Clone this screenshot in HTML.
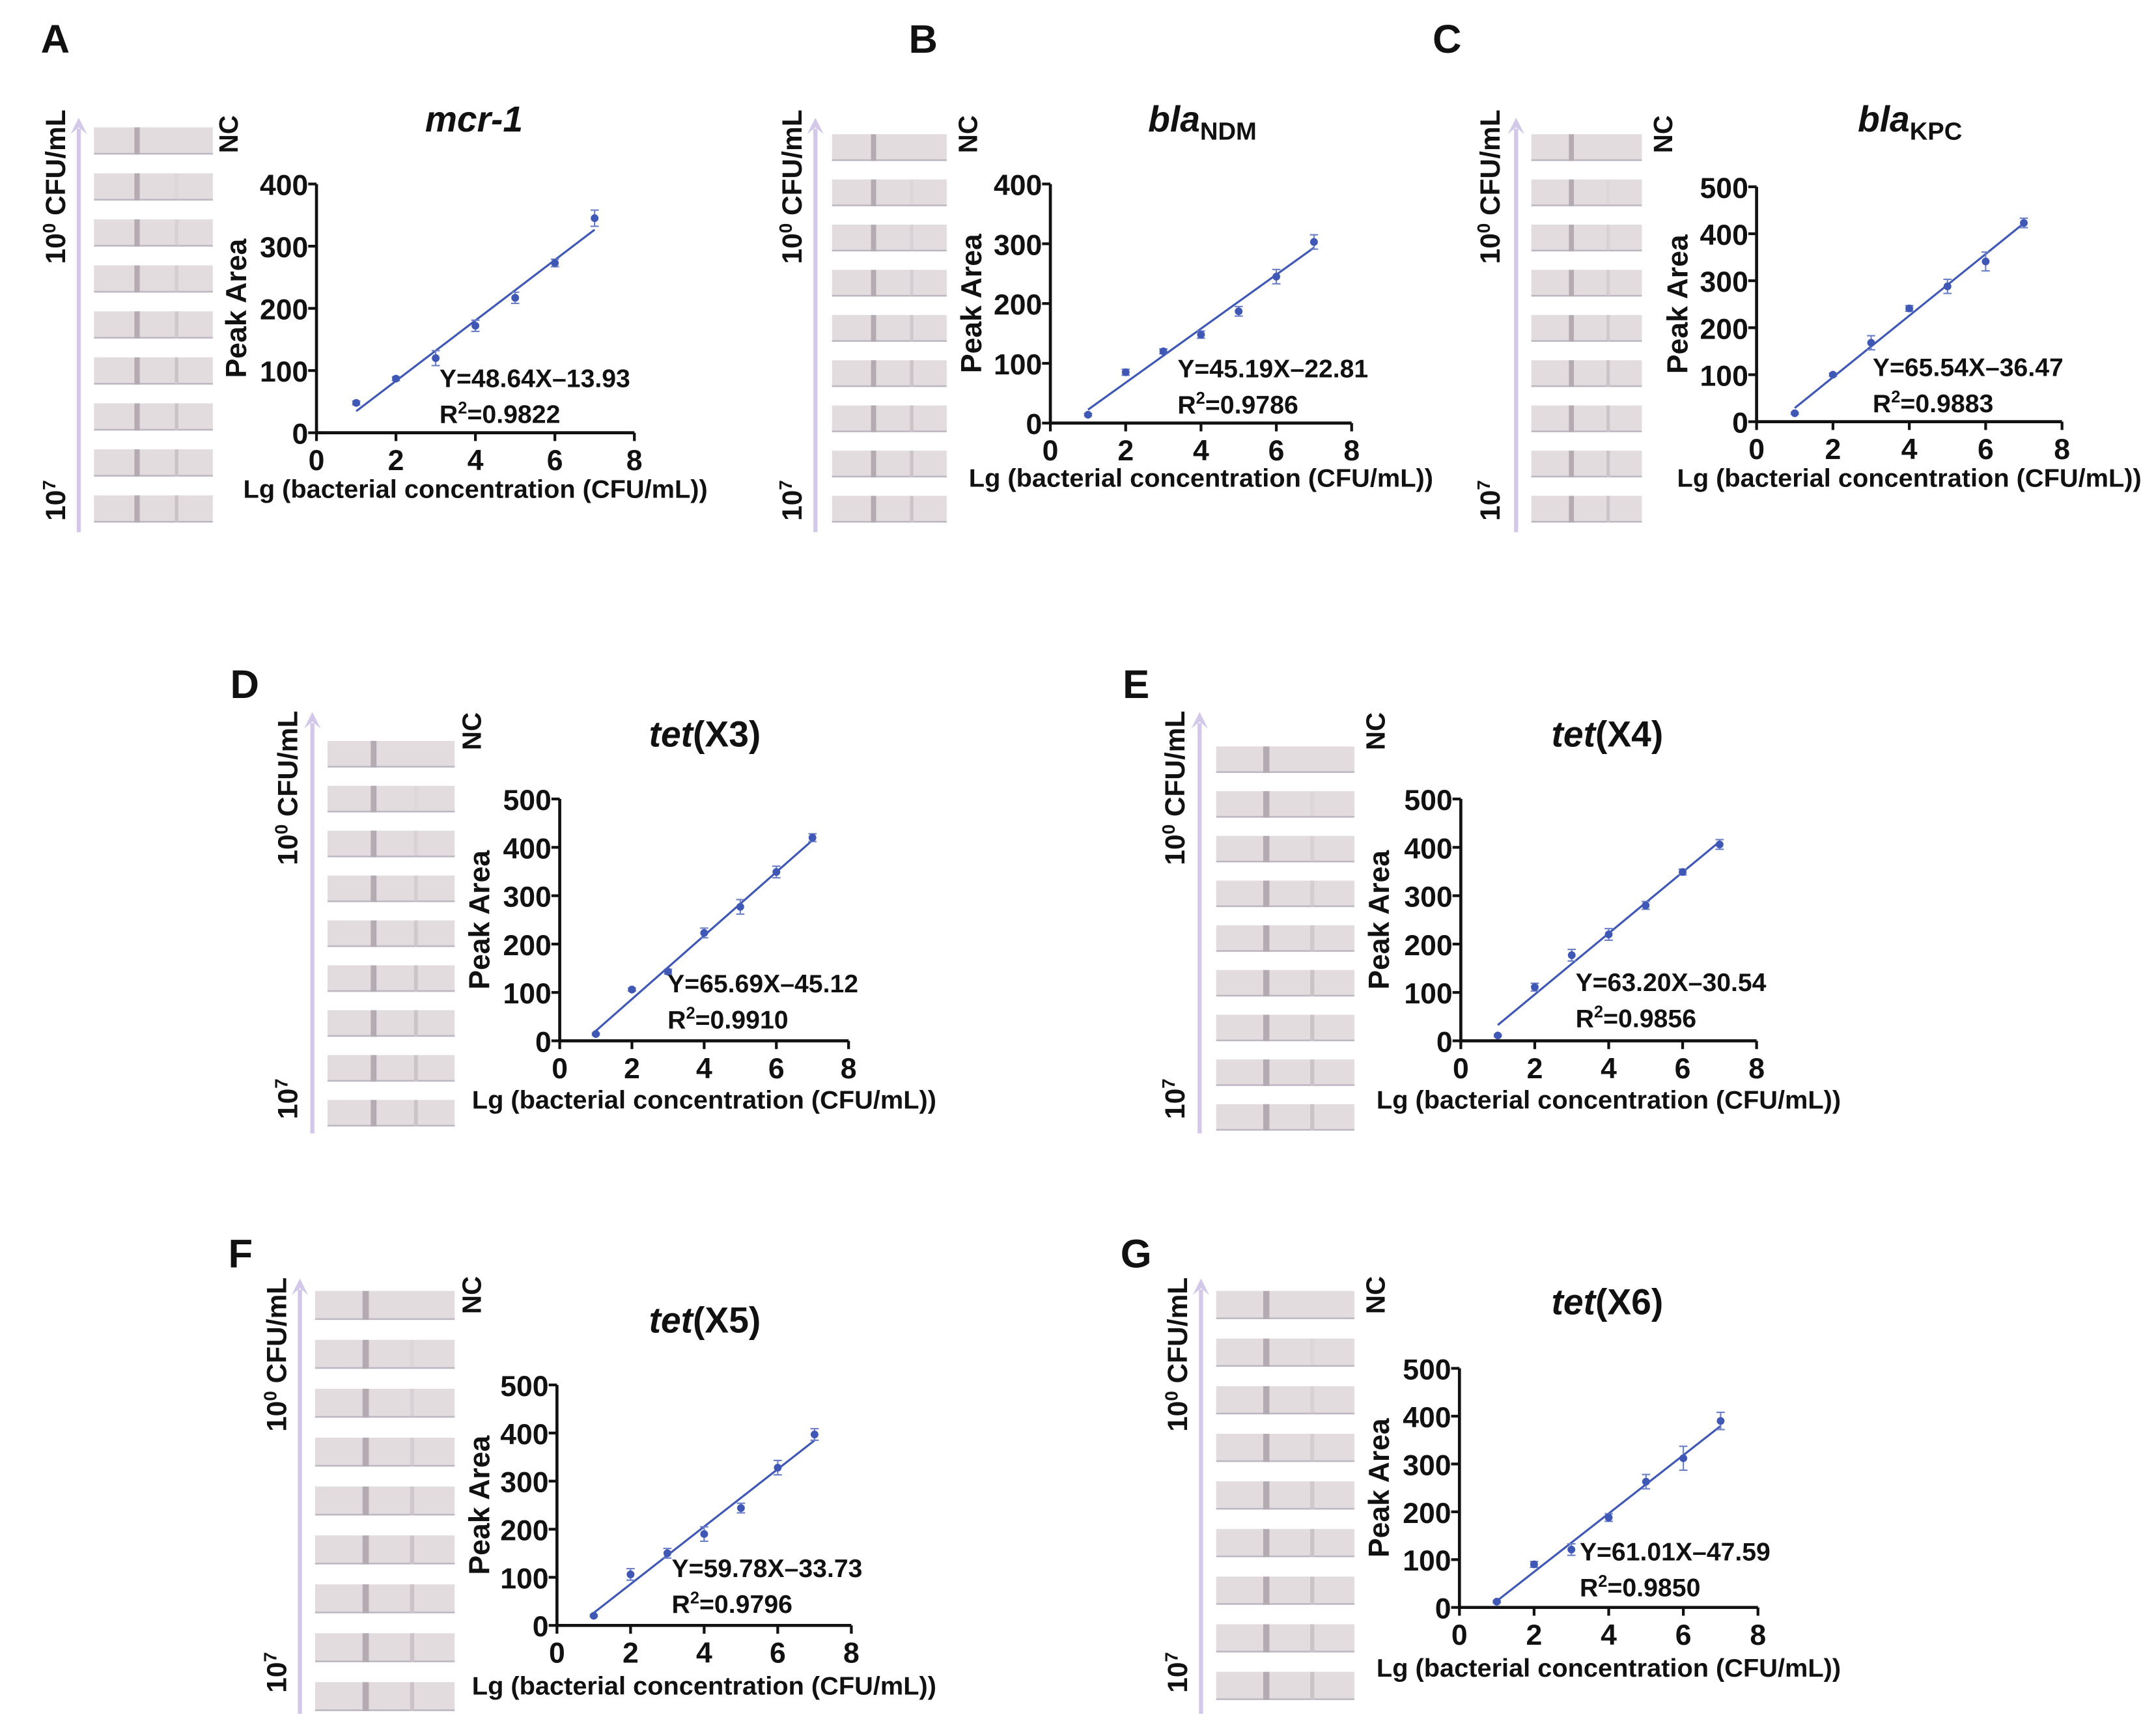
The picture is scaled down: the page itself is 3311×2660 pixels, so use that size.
<!DOCTYPE html>
<html><head><meta charset="utf-8"><style>
html,body{margin:0;padding:0;background:#fff}
svg{display:block}
text{font-family:"Liberation Sans",Arial,sans-serif;font-weight:bold;fill:#111}
</style></head><body>
<svg id="fig" width="3311" height="2660" viewBox="0 0 1560 1253" xmlns="http://www.w3.org/2000/svg"></svg>
<script>
// ---- data ----
const xValues = [1,2,3,4,5,6,7];
const xTicks = [0,2,4,6,8];
const dataA = [48,87,120,172,217,273,345];
const errA = [3,3,12,9,9,6,13];
const dataB = [14,85,120,148,187,245,303];
const errB = [2,5,4,6,8,12,12];
const dataC = [18,100,168,241,288,341,423];
const errC = [2,3,15,6,15,20,10];
const dataD = [14,106,143,223,277,349,420];
const errD = [2,3,5,10,15,12,8];
const dataE = [11,111,177,220,280,349,406];
const errE = [2,8,12,12,8,6,10];
const dataF = [20,106,150,190,244,328,397];
const errF = [2,12,10,15,10,15,12];
const dataG = [12,90,121,188,263,312,390];
const errG = [2,6,12,8,15,25,18];
const slopes = [48.64,45.19,65.54,65.69,63.20,59.78,61.01];
const intercepts = [-13.93,-22.81,-36.47,-45.12,-30.54,-33.73,-47.59];
const eqLabels = ["Y=48.64X–13.93","Y=45.19X–22.81","Y=65.54X–36.47","Y=65.69X–45.12","Y=63.20X–30.54","Y=59.78X–33.73","Y=61.01X–47.59"];
const r2Labels = ["=0.9822","=0.9786","=0.9883","=0.9910","=0.9856","=0.9796","=0.9850"];
const yTicksA = [0,100,200,300,400];
const yTicksB = [0,100,200,300,400];
const yTicks5 = [0,100,200,300,400,500];

// ---- layout ----
const panels = [
 {id:"a",L:"A",lx:40,ly:38,arrow:57,a0:385,a1:85,sx:68,sw:86,sy0:92,sy1:378,nc:165,ncy:95,tx:40,t0y:135,t7y:362,ox:229,oy:313,x8:459,yTop:133,yMax:400,data:dataA,err:errA,yt:yTicksA,title:["mcr-1",""],tcx:343,tcy:95,ex:318,ey:273,ylx:170,k:0,xt:360},
 {id:"b",L:"B",lx:668,ly:38,arrow:590,a0:385,a1:85,sx:602,sw:83,sy0:97,sy1:378,nc:700,ncy:95,tx:573,t0y:135,t7y:362,ox:760,oy:306,x8:978,yTop:133,yMax:400,data:dataB,err:errB,yt:yTicksB,title:["bla","NDM"],tcx:870,tcy:95,ex:852,ey:266,ylx:702,k:1,xt:352},
 {id:"c",L:"C",lx:1047,ly:38,arrow:1097,a0:385,a1:85,sx:1108,sw:80,sy0:97,sy1:378,nc:1203,ncy:95,tx:1078,t0y:135,t7y:362,ox:1271,oy:305,x8:1492,yTop:135,yMax:500,data:dataC,err:errC,yt:yTicks5,title:["bla","KPC"],tcx:1382,tcy:95,ex:1355,ey:265,ylx:1213,k:2,xt:352},
 {id:"d",L:"D",lx:177,ly:505,arrow:226,a0:820,a1:515,sx:237,sw:92,sy0:536,sy1:815,nc:341,ncy:527,tx:208,t0y:570,t7y:795,ox:405,oy:753,x8:614,yTop:578,yMax:500,data:dataD,err:errD,yt:yTicks5,title:["tet","(X3)"],tcx:510,tcy:540,ex:483,ey:711,ylx:346,k:3,xt:802},
 {id:"e",L:"E",lx:822,ly:505,arrow:868,a0:820,a1:515,sx:880,sw:100,sy0:540,sy1:818,nc:995,ncy:527,tx:850,t0y:570,t7y:795,ox:1057,oy:753,x8:1271,yTop:578,yMax:500,data:dataE,err:errE,yt:yTicks5,title:["tet","(X4)"],tcx:1163,tcy:540,ex:1140,ey:710,ylx:997,k:4,xt:802},
 {id:"f",L:"F",lx:174,ly:917,arrow:217,a0:1240,a1:925,sx:228,sw:101,sy0:934,sy1:1238,nc:341,ncy:935,tx:200,t0y:980,t7y:1210,ox:403,oy:1176,x8:616,yTop:1002,yMax:500,data:dataF,err:errF,yt:yTicks5,title:["tet","(X5)"],tcx:510,tcy:964,ex:486,ey:1134,ylx:346,k:5,xt:1226},
 {id:"g",L:"G",lx:822,ly:917,arrow:869,a0:1240,a1:925,sx:880,sw:100,sy0:934,sy1:1230,nc:995,ncy:935,tx:852,t0y:980,t7y:1210,ox:1056,oy:1163,x8:1272,yTop:990,yMax:500,data:dataG,err:errG,yt:yTicks5,title:["tet","(X6)"],tcx:1163,tcy:951,ex:1143,ey:1122,ylx:997,k:6,xt:1213}
];
const NS="http://www.w3.org/2000/svg";
const svg=document.getElementById('fig');
function mk(tag,attrs,parent,txt){const e=document.createElementNS(NS,tag);for(const k in attrs)e.setAttribute(k,attrs[k]);if(txt!==undefined)e.textContent=txt;parent.appendChild(e);return e;}

panels.forEach(p=>{
  const g=mk('g',{},svg);
  
  
  const xs=v=>p.ox+(v/8)*(p.x8-p.ox);
  const ys=v=>p.oy-(v/p.yMax)*(p.oy-p.yTop);
  let t=mk('text',{x:p.lx,y:p.ly,'font-size':29,'text-anchor':'middle'},g,p.L);
  
  let ar=mk('g',{},g);
  
  mk('line',{x1:p.arrow,y1:p.a0,x2:p.arrow,y2:p.a1+8,stroke:'#d4c8ea','stroke-width':3},ar);
  mk('path',{d:`M${p.arrow-6} ${p.a1+12} L${p.arrow} ${p.a1} L${p.arrow+6} ${p.a1+12} L${p.arrow} ${p.a1+7}Z`,fill:'#d4c8ea'},ar);
  const n=9, sh=(p.sy1-p.sy0)/n*0.62, step=(p.sy1-p.sy0-sh)/(n-1);
  for(let i=0;i<n;i++){
    const y=p.sy0+i*step;
    const s=mk('g',{},g);
    
    mk('rect',{x:p.sx,y:y,width:p.sw,height:sh,fill:'#e2dcdf'},s);
    mk('rect',{x:p.sx,y:y+sh-1.2,width:p.sw,height:1.2,fill:'#bdb7c2'},s);
    mk('rect',{x:p.sx+p.sw*0.34,y:y,width:p.sw*0.045,height:sh,fill:'#b3abb1'},s);
    if(i>0) mk('rect',{x:p.sx+p.sw*0.68,y:y,width:p.sw*0.03,height:sh,fill:'#cbc3c8','opacity':Math.min(1,i/5)},s);
  }
  t=mk('text',{x:0,y:0,'font-size':19,'text-anchor':'middle',transform:`translate(${p.nc+7},${p.ncy+2}) rotate(-90)`},g,'NC');
  
  t=mk('text',{x:0,y:0,'font-size':20,'text-anchor':'middle',transform:`translate(${p.tx+7},${p.t0y}) rotate(-90)`},g);
  
  mk('tspan',{},t,'10');mk('tspan',{dy:-7,'font-size':13},t,'0');mk('tspan',{dy:7},t,' CFU/mL');
  t=mk('text',{x:0,y:0,'font-size':20,'text-anchor':'middle',transform:`translate(${p.tx+7},${p.t7y}) rotate(-90)`},g);
  
  mk('tspan',{},t,'10');mk('tspan',{dy:-7,'font-size':13},t,'7');
  t=mk('text',{x:p.tcx,y:p.tcy,'font-size':26,'text-anchor':'middle'},g);
  
  mk('tspan',{'font-style':'italic'},t,p.title[0]);
  if(p.title[1]){ if(p.title[1][0]==='(') mk('tspan',{},t,p.title[1]); else mk('tspan',{'font-size':18,dy:6},t,p.title[1]); }
  const ax=mk('g',{},g);
  mk('line',{x1:p.ox,y1:p.oy,x2:p.x8,y2:p.oy,stroke:'#111','stroke-width':2.2},ax);
  mk('line',{x1:p.ox,y1:p.oy,x2:p.ox,y2:p.yTop,stroke:'#111','stroke-width':2.2},ax);
  xTicks.forEach(v=>{mk('line',{x1:xs(v),y1:p.oy,x2:xs(v),y2:p.oy+6,stroke:'#111','stroke-width':2},ax);
    const tt=mk('text',{x:xs(v),y:p.oy+27,'font-size':21,'text-anchor':'middle'},ax,v);
    });
  p.yt.forEach(v=>{mk('line',{x1:p.ox-6,y1:ys(v),x2:p.ox,y2:ys(v),stroke:'#111','stroke-width':2},ax);
    const tt=mk('text',{x:p.ox-6,y:ys(v)+8,'font-size':21,'text-anchor':'end'},ax,v);
    });
  t=mk('text',{x:0,y:0,'font-size':21,'text-anchor':'middle',transform:`translate(${p.ylx+8},${(p.oy+p.yTop)/2}) rotate(-90)`},g,'Peak Area');
  
  t=mk('text',{x:(p.ox+p.x8)/2,y:p.xt,'font-size':18.5,'text-anchor':'middle',textLength:336,lengthAdjust:'spacingAndGlyphs'},g,'Lg (bacterial concentration (CFU/mL))');
  
  const k=p.k;
  const fl=mk('line',{x1:xs(1),y1:ys(slopes[k]*1+intercepts[k]),x2:xs(7),y2:ys(slopes[k]*7+intercepts[k]),stroke:'#3f57b5','stroke-width':1.5},g);
  
  xValues.forEach((xv,i)=>{
    const pg=mk('g',{},g);
    
    const cx=xs(xv),cy=ys(p.data[i]),e1=ys(p.data[i]+p.err[i]),e2=ys(p.data[i]-p.err[i]);
    mk('line',{x1:cx,y1:e1,x2:cx,y2:e2,stroke:'#6b7fc8','stroke-width':1},pg);
    mk('line',{x1:cx-3,y1:e1,x2:cx+3,y2:e1,stroke:'#6b7fc8','stroke-width':1},pg);
    mk('line',{x1:cx-3,y1:e2,x2:cx+3,y2:e2,stroke:'#6b7fc8','stroke-width':1},pg);
    mk('circle',{cx:cx,cy:cy,r:2.8,fill:'#3f57b5'},pg);
  });
  t=mk('text',{x:p.ex,y:p.ey+7,'font-size':18.5,textLength:138,lengthAdjust:'spacingAndGlyphs'},g,eqLabels[k]);
  
  t=mk('text',{x:p.ex,y:p.ey+33,'font-size':18.5},g);
  
  mk('tspan',{},t,'R');mk('tspan',{dy:-7,'font-size':12},t,'2');mk('tspan',{dy:7},t,r2Labels[k]);
});
</script>
</body></html>
